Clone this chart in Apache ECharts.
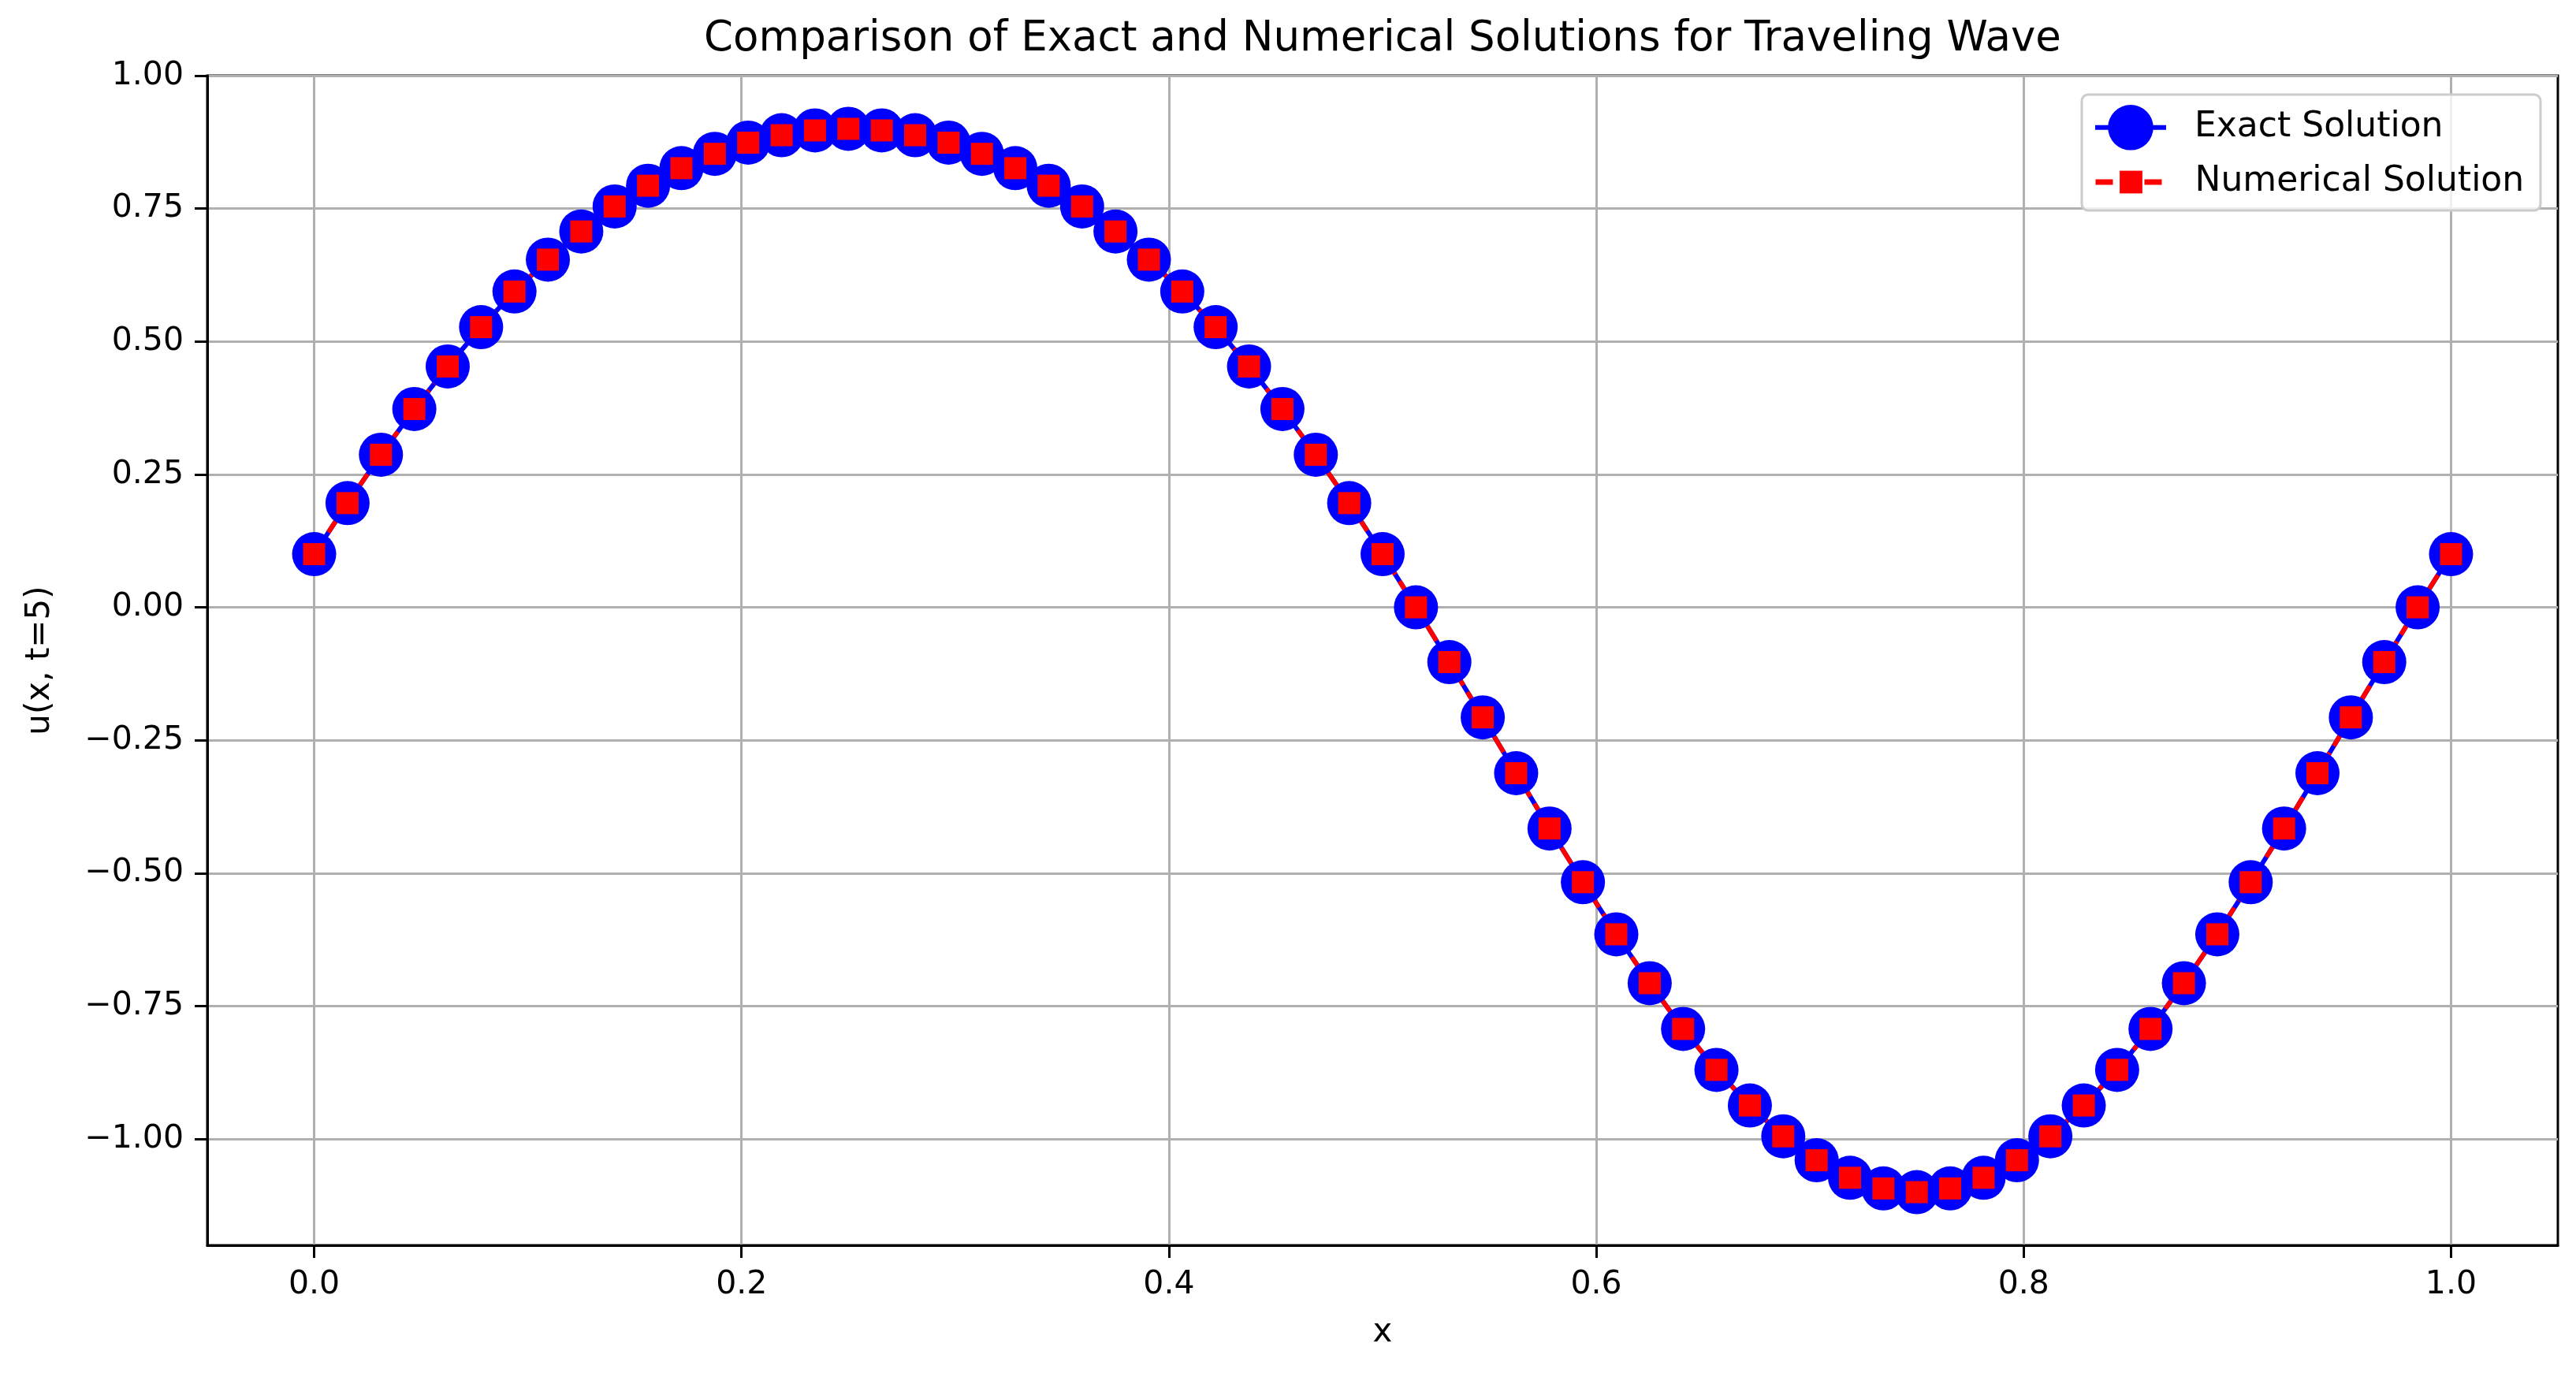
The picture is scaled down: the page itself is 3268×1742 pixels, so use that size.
<!DOCTYPE html>
<html>
<head>
<meta charset="utf-8">
<script src="https://cdn.jsdelivr.net/npm/echarts@6/dist/echarts.min.js"></script>
<style>
html,body{margin:0;padding:0;background:#fff;}
#chart{width:3268px;height:1742px;}
</style>
</head>
<body>
<div id="chart"></div>
<script>
// ---- data ----
const xValues = [0, 0.015625, 0.03125, 0.046875, 0.0625, 0.078125, 0.09375, 0.109375, 0.125, 0.140625,
  0.15625, 0.171875, 0.1875, 0.203125, 0.21875, 0.234375, 0.25, 0.265625, 0.28125, 0.296875,
  0.3125, 0.328125, 0.34375, 0.359375, 0.375, 0.390625, 0.40625, 0.421875, 0.4375, 0.453125,
  0.46875, 0.484375, 0.5, 0.515625, 0.53125, 0.546875, 0.5625, 0.578125, 0.59375, 0.609375,
  0.625, 0.640625, 0.65625, 0.671875, 0.6875, 0.703125, 0.71875, 0.734375, 0.75, 0.765625,
  0.78125, 0.796875, 0.8125, 0.828125, 0.84375, 0.859375, 0.875, 0.890625, 0.90625, 0.921875,
  0.9375, 0.953125, 0.96875, 0.984375, 1.0];

const exactValues = [0.100, 0.196, 0.287, 0.373, 0.453, 0.527, 0.594, 0.654, 0.707, 0.754,
  0.793, 0.826, 0.853, 0.874, 0.888, 0.897, 0.900, 0.897, 0.888, 0.874,
  0.853, 0.826, 0.793, 0.754, 0.707, 0.654, 0.594, 0.527, 0.453, 0.373,
  0.287, 0.196, 0.100, 0.000, -0.103, -0.207, -0.312, -0.416, -0.517, -0.615,
  -0.707, -0.793, -0.870, -0.937, -0.995, -1.040, -1.073, -1.093, -1.100, -1.093,
  -1.073, -1.040, -0.995, -0.937, -0.870, -0.793, -0.707, -0.615, -0.517, -0.416,
  -0.312, -0.207, -0.103, 0.000, 0.100];

const numericalValues = [0.100, 0.196, 0.287, 0.373, 0.453, 0.527, 0.594, 0.654, 0.707, 0.754,
  0.793, 0.826, 0.853, 0.874, 0.888, 0.897, 0.900, 0.897, 0.888, 0.874,
  0.853, 0.826, 0.793, 0.754, 0.707, 0.654, 0.594, 0.527, 0.453, 0.373,
  0.287, 0.196, 0.100, 0.000, -0.103, -0.207, -0.312, -0.416, -0.517, -0.615,
  -0.707, -0.793, -0.870, -0.937, -0.995, -1.040, -1.073, -1.093, -1.100, -1.093,
  -1.073, -1.040, -0.995, -0.937, -0.870, -0.793, -0.707, -0.615, -0.517, -0.416,
  -0.312, -0.207, -0.103, 0.000, 0.100];

const xTicks = [0.0, 0.2, 0.4, 0.6, 0.8, 1.0];
const yTicks = [-1.0, -0.75, -0.5, -0.25, 0.0, 0.25, 0.5, 0.75, 1.0];

const titleText = 'Comparison of Exact and Numerical Solutions for Traveling Wave';
const xName = 'x';
const yName = 'u(x, t=5)';
const seriesNames = ['Exact Solution', 'Numerical Solution'];

// ---- chart ----
const FONT = 'DejaVu Sans';
const chart = echarts.init(document.getElementById('chart'), null, {renderer: 'canvas', devicePixelRatio: 1});

const exactData = xValues.map((x, i) => [x, exactValues[i]]);
const numData = xValues.map((x, i) => [x, numericalValues[i]]);

const fmtMinus = s => s.replace('-', '\u2212');

const option = {
  backgroundColor: '#ffffff',
  animation: false,
  textStyle: {fontFamily: FONT},
  title: {
    text: titleText,
    left: 1754,
    top: 24,
    textAlign: 'center',
    padding: 0,
    textStyle: {fontFamily: FONT, fontSize: 53, fontWeight: 'normal', color: '#000'}
  },
  grid: {
    left: 263, right: 23, top: 96, bottom: 162,
    show: true, borderColor: '#000', borderWidth: 3, backgroundColor: 'transparent'
  },
  legend: [
    {
      data: [seriesNames[0]],
      left: 2655, top: 133, padding: 0,
      itemWidth: 90, itemHeight: 72,
      lineStyle: {width: 6, color: '#0000ff'},
      textStyle: {fontFamily: FONT, fontSize: 44, color: '#000', padding: [0, 0, 0, 31]}
    },
    {
      data: [seriesNames[1]],
      left: 2655, top: 209, padding: 0,
      itemWidth: 90, itemHeight: 36,
      lineStyle: {width: 7, color: '#ff0000', type: [22, 9]},
      textStyle: {fontFamily: FONT, fontSize: 44, color: '#000', padding: [0, 0, 0, 31]}
    }
  ],
  graphic: [{
    type: 'rect',
    z: 3,
    shape: {x: 2641, y: 120, width: 582, height: 147, r: 8},
    style: {fill: 'rgba(255,255,255,0.8)', stroke: '#cccccc', lineWidth: 3}
  }],
  xAxis: {
    type: 'value',
    min: -0.05, max: 1.05,
    name: xName, nameLocation: 'middle', nameGap: 90,
    nameTextStyle: {fontFamily: FONT, fontSize: 42, color: '#000'},
    axisLine: {show: true, onZero: false, lineStyle: {color: '#000', width: 3}},
    axisTick: {show: true, inside: false, length: 16, lineStyle: {color: '#000', width: 3}, customValues: xTicks},
    axisLabel: {show: true, margin: 30, fontFamily: FONT, fontSize: 41, color: '#000', customValues: xTicks,
      formatter: v => fmtMinus(Number(v).toFixed(1))},
    splitLine: {show: true, lineStyle: {color: '#b0b0b0', width: 3}}
  },
  yAxis: {
    type: 'value',
    min: -1.2, max: 1.0,
    name: yName, nameLocation: 'middle', nameGap: 191, nameRotate: 90,
    nameTextStyle: {fontFamily: FONT, fontSize: 42, color: '#000'},
    axisLine: {show: true, onZero: false, lineStyle: {color: '#000', width: 3}},
    axisTick: {show: true, inside: false, length: 16, lineStyle: {color: '#000', width: 3}, customValues: yTicks},
    axisLabel: {show: true, margin: 30, fontFamily: FONT, fontSize: 41, color: '#000', customValues: yTicks,
      formatter: v => fmtMinus(Number(v).toFixed(2))},
    splitLine: {show: true, lineStyle: {color: '#b0b0b0', width: 3}}
  },
  series: [
    {
      name: seriesNames[0],
      type: 'line',
      data: exactData,
      symbol: 'circle',
      symbolSize: 56,
      showSymbol: true,
      lineStyle: {color: '#0000ff', width: 6},
      itemStyle: {color: '#0000ff', borderWidth: 0},
      emphasis: {disabled: true},
      z: 2
    },
    {
      name: seriesNames[1],
      type: 'line',
      data: numData,
      symbol: 'rect',
      symbolSize: 28,
      showSymbol: true,
      lineStyle: {color: '#ff0000', width: 6, type: [23, 10]},
      itemStyle: {color: '#ff0000', borderWidth: 0},
      emphasis: {disabled: true},
      z: 2
    }
  ]
};
chart.setOption(option);
</script>
</body>
</html>
